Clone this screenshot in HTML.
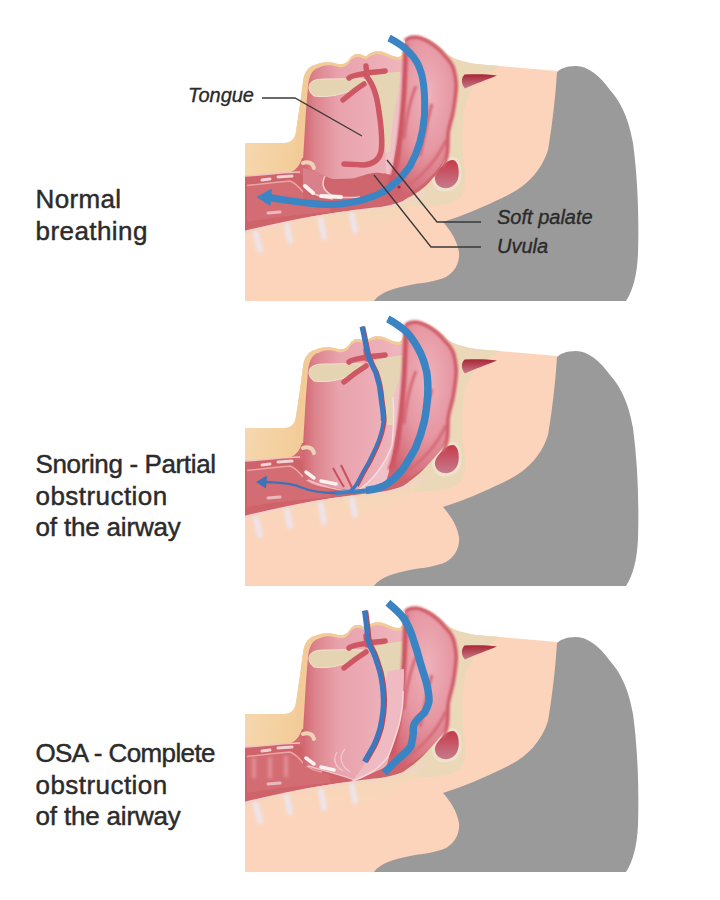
<!DOCTYPE html>
<html><head><meta charset="utf-8">
<style>
html,body{margin:0;padding:0;background:#fff;width:720px;height:900px;overflow:hidden}
.lbl{position:absolute;left:35.5px;font-family:"Liberation Sans",sans-serif;font-size:26px;line-height:31.5px;color:#2b2b2b;white-space:nowrap;-webkit-text-stroke:0.45px #2b2b2b}
.lbl span{display:block}
svg{position:absolute;left:0;top:0}
.it{font-family:"Liberation Sans",sans-serif;font-style:italic;font-size:20px;fill:#2a2a2a;stroke:#2a2a2a;stroke-width:0.35px}
</style></head><body>
<svg width="720" height="900" viewBox="0 0 720 900">
<defs>
<filter id="blur1" x="-50%" y="-50%" width="200%" height="200%"><feGaussianBlur stdDeviation="1.5"/></filter>
<linearGradient id="creamG" x1="0" y1="0" x2="0" y2="1"><stop offset="0" stop-color="#f2d8b6"/><stop offset="1" stop-color="#fcd4bc" stop-opacity="0"/></linearGradient>
<linearGradient id="uvG" x1="0" y1="0" x2="0" y2="1"><stop offset="0" stop-color="#f0bac2" stop-opacity="0"/><stop offset="0.3" stop-color="#f0bac2"/><stop offset="1" stop-color="#f0bac2"/></linearGradient>
<linearGradient id="pinkL" x1="0" y1="0" x2="1" y2="0">
  <stop offset="0" stop-color="#d2666f"/><stop offset="0.12" stop-color="#dc848d"/><stop offset="0.35" stop-color="#e8a2ac"/><stop offset="1" stop-color="#efb6be"/>
</linearGradient>
<radialGradient id="lumpR" cx="0.6" cy="0.35" r="0.7"><stop offset="0" stop-color="#eeb2bb"/><stop offset="0.5" stop-color="#e697a2"/><stop offset="1" stop-color="#d0626e"/></radialGradient>
<filter id="blur07" x="-20%" y="-20%" width="140%" height="140%"><feGaussianBlur stdDeviation="0.8"/></filter>
<linearGradient id="neckG" x1="0" y1="0" x2="1" y2="0.4">
  <stop offset="0" stop-color="#f7d9b4"/><stop offset="1" stop-color="#f3cd98"/>
</linearGradient>
<linearGradient id="sinG" x1="0" y1="0" x2="0" y2="1">
  <stop offset="0" stop-color="#c63a4a"/><stop offset="1" stop-color="#c77a8c"/>
</linearGradient>
<linearGradient id="wedgeG" x1="0" y1="0" x2="0" y2="1">
  <stop offset="0" stop-color="#a82536"/><stop offset="1" stop-color="#c77a8a"/>
</linearGradient>
<g id="base">
  <path d="M373,301 L626,301 C633,290 637,275 638,254 C639,220 638,180 633,143 C628,115 619,100 610,90 C600,76 588,66 576,66 C566,66 560,69 557,72 L373,301 Z" fill="#9a9a9a"/>
  <path d="M245,143 L284,143 C291,143 295,139 296,131 L300,105 L303,82 C304,72 309,66 315,65 C320,62 330,61 338,64 C342,65 346,64 349,60 C352,55 355,53.5 359,54 C362,54.5 364,56 366,56.5 C369,54 371,52 375,51.5 C379,51 383,51.5 388,54 C392,56 395,57 398,57 C401,57 402,55 403,52 C404,47 404,43 407,39 C411,36 420,35.5 430,40 C437,44 442,49 446,53 C450,57 455,59 462,61 C472,64 485,65 500,66 L557,71 C556,90 553,120 548,150 C540,175 522,189 502,198 C485,206 465,215 443,222 C450,230 457,240 459,252 C460,262 455,272 446,277 C435,282 420,283 410,285 C395,288 380,292 374,301 L245,301 Z" fill="#fcd4bc"/>
  <path d="M245,143 L284,143 C291,143 295,139 296,131 L300,105 L304,185 L245,185 Z" fill="url(#neckG)"/>
  <!-- beige tissue -->
  <path d="M296,135 L300,105 L303,82 C304,72 309,66 315,65 C320,62 330,61 338,64 C342,65 346,64 349,60 C352,55 355,53.5 359,54 C362,54.5 364,56 366,56.5 C369,54 371,52 375,51.5 C379,51 383,51.5 388,54 C392,56 395,57 398,57 C401,57 402,55 403,52 C404,47 404,43 407,39 C411,36 420,35.5 430,40 C437,44 442,49 446,53 C450,57 455,59 462,61 C472,64 485,65 500,66 C490,72 478,80 472,90 C466,100 463,110 463,122 C462,135 462,150 464,163 C466,178 466,192 460,198 C452,204 440,206 426,206 L300,215 Z" fill="#ebd8b8"/>
  <!-- mouth tan rim -->
  <path d="M296,135 L300,105 L303,82 C304,72 309,66 315,65 C320,62 330,61 338,64 C342,65 346,64 349,60 C352,55 355,53.5 359,54 C362,54.5 364,56 366,56.5 C369,54 371,52 375,51.5 C379,51 383,51.5 388,54 C392,56 395,57 398,57 C401,57 402,55 403,52 L405,60 L396,72 L370,72 L306,180 L296,180 Z" fill="#f3cb98"/>
  <!-- pharynx / trachea red band -->
  <path d="M245,176 C265,175 285,172 300,172 L330,168 L448,141 C446,152 438,166 430,177 C424,185 416,192 403,201 C390,206 380,207 370,208 C320,214 290,220 245,233 Z" fill="#ce6369"/>
  <path d="M291,172 C296,170 300,165 302,158 L309,158 L309,178 Z" fill="#d46a72"/>
  <path d="M247,186 C265,184 280,182 290,181 C296,184 300,188 304,193 C310,198 318,201 330,204 L330,212 C300,214 270,218 247,222 Z" fill="#d9777c" opacity="0.55"/>
  <path d="M245,176 C265,175 285,172 300,172" fill="none" stroke="#f2c2c2" stroke-width="1.5"/>
  <path d="M247,185.5 C260,184 280,182 290,181 C296,183 300,188 304,193 C310,198 316,200 322,201" stroke="#f0b5b5" stroke-width="1.5" fill="none" opacity="0.8"/>
  <path d="M262,180 L270,179 M278,177 L292,176" stroke="#f9e6e6" stroke-width="3" stroke-linecap="round" opacity="0.85"/>
  <path d="M268,213 L280,212" stroke="#f6dada" stroke-width="3" stroke-linecap="round" opacity="0.7"/>
  <path d="M245,232 C290,221 320,215 352,212 C380,210 405,206 426,192" fill="none" stroke="#f3d2cc" stroke-width="2.5"/>
  <path d="M245,233 C290,221 320,215 352,212 C380,210 400,207 418,199 C410,214 388,226 352,236 C320,242 290,250 245,258 Z" fill="url(#creamG)"/>
  <g stroke="#ece6f0" stroke-width="6" stroke-linecap="round" opacity="0.9" filter="url(#blur1)">
  <path d="M256,234 L260,250 M287,226 L290,241 M321,220 L324,237 M352,215 L355,230"/>
  </g>
  <!-- sinus oval -->
  <path d="M452.5,157 C459,157 462,166 461.5,176 C460.5,186 453,192 443.5,191.5 C434.5,191 430.5,182 432.5,175 C436,166 446,157 452.5,157 Z" fill="#efe2cc"/>
  <path d="M452.5,160 C457.5,160 459.5,168 458.5,176 C457.5,184 451.5,189 443.5,188 C436.5,187 433.5,180 435.5,175 C438.5,168 447.5,160 452.5,160 Z" fill="url(#sinG)"/>
  <path d="M464.5,74.5 C475,74 488,74 497,75.5 C488,79 475,84 465,88.5 C461,84 461,78 464.5,74.5 Z" fill="url(#wedgeG)"/>
</g>
</defs>
<use href="#base"/>
<g>
  <!-- tongue pink -->
  <path d="M303,180 L303,160 L306,110 L308,86 C309,75 313,69 318,68 C323,65 330,64 338,67 C342,68 346,67 349,63 C352,58 355,56.5 359,57 C362,57.5 364,59 366,59.5 C369,57 371,55 375,54.5 C379,54 383,54.5 388,57 C392,59 395,60 398,60 C400,60 402,59 403,58 L403,62 L403,160 C395,170 385,175 370,178 Z" fill="url(#pinkL)"/>
  <path d="M384,90 L403,70 L401,176 L386,178 Z" fill="#f1bfc6"/>
  <path d="M369,75 C380,73 392,72 400,72 L399,90 C394,110 391,130 390,152 L386,153 C383,125 378,95 369,75 Z" fill="#e6d5b4"/>
  <path d="M309,88 C309,81 315,79 325,79 C345,79 360,78 370,80 C364,86 352,91 340,94 C330,97 320,97 314,96 C311,94 309,91 309,88 Z" fill="#e4d4b1" stroke="#f5e3cf" stroke-width="1"/>
  <!-- pharynx floor red -->
  <path d="M303,168 C312,170 318,173 325,176 C335,181 345,182 355,178 C365,175 372,172 380,173 C390,174 395,176 400,178 C415,172 435,160 447,145 C446,160 440,172 432,179 C425,188 415,195 403,200 C390,206 380,206 370,207 C340,209 320,207 303,200 Z" fill="#cf666e"/>
  <path d="M303,168 C312,170 318,173 325,176 C321,184 323,191 333,196 C320,199 308,193 303,186 Z" fill="#d9808a"/>
  <path d="M325,176 C321,184 323,191 333,196 C340,198 348,198 360,197 M343,164 L358,167 M303,185 C310,193 320,198 333,199" fill="none" stroke="#f4c6cc" stroke-width="1.5"/>
  
  <path d="M405,41 C407,38 411,37 415,37 C420,37 424,39 429,42 C436,46 441,51 445,56 C450,61 453,66 454,70 C456,78 457,85 456,92 C455,100 454,110 452,117 C450,125 448,130 448,136 C448,145 448,150 447,155 C446,158 443,162 440,166 C433,175 425,183 416,189 C405,196 395,198 385,200 C390,185 393,170 395,154 C398,140 399,130 400,123 C401,110 402,100 403,92 C404,75 404,60 405,41 Z" fill="url(#lumpR)"/>
  <g filter="url(#blur07)">
  <path d="M405,41 C407,38 411,37 415,37 C420,37 424,39 429,42 C436,46 441,51 445,56 C450,61 453,66 454,70 C456,78 457,85 456,92 C455,100 454,110 452,117 C450,125 448,130 448,136 C448,145 448,150 447,155 C446,160 445,164 443,167" fill="none" stroke="#d05a68" stroke-width="3.5"/>
  <path d="M406,44 C405,60 405,75 404,92 C403,110 401,130 398,154 C396,165 394,175 390,185" fill="none" stroke="#cd5664" stroke-width="5"/>
  <path d="M416,86 C410,100 406,120 404,139 M432,104 C427,120 424,140 420,156 M446,140 C438,158 423,176 403,189" fill="none" stroke="#d46a76" stroke-width="3"/>
  </g>

  <path d="M349,78 C352,75 358,75 367,73 C372,72 378,72 385,71 M366,66 L367,75 M367,77 C373,84 377,95 379,112 C381,125 383,140 381,152 C379,160 373,164 364,165 L344,164 M364,84 C356,89 349,95 343,100" fill="none" stroke="#cd5863" stroke-width="5.5" stroke-linecap="round"/>
  <path d="M305,186 L313,193 M321,196 L341,197" stroke="#fdf2f2" stroke-width="4" stroke-linecap="round"/>
  <path d="M303,163 C308,161 313,163 314,168" stroke="#ecd3b5" stroke-width="4" fill="none" stroke-linecap="round"/>
  <circle cx="399" cy="187" r="1.6" fill="#a02c3a"/>
  <!-- blue arc -->
  <path d="M389,38 C405,46 417,58 421,72 C425,85 425,100 424.5,115 C423,135 418,152 410,166 C402,178 393,186 383,192 C370,199 355,203 335,204.5 C315,205 295,202 270,197.5" fill="none" stroke="#3b85c5" stroke-width="7"/>
  <path d="M256.5,197 L272,188.5 L270.5,206 Z" fill="#3b85c5"/>
</g>
<use href="#base" y="285"/>
<g transform="translate(0,285)">
  <path d="M303,195 L303,160 L306,110 L308,86 C309,75 313,69 318,68 C323,65 330,64 338,67 C342,68 346,67 349,63 C352,58 355,56.5 359,57 C362,57.5 364,59 366,59.5 C369,57 371,55 375,54.5 C379,54 383,54.5 388,57 C392,59 395,60 398,60 C400,60 402,59 403,58 L403,62 L402,180 C398,195 385,203 365,205 C340,206 320,201 308,195 Z" fill="url(#pinkL)"/>
  <path d="M372,76 C382,73 394,71 404,70 L403,100 C400,112 399,125 398,140 L387,140 C386,120 382,95 372,76 Z" fill="#e6d5b4"/>
  <path d="M309,88 C309,81 315,79 325,79 C345,79 360,78 368,80 C362,86 352,91 340,94 C330,97 320,97 314,96 C311,94 309,91 309,88 Z" fill="#e4d4b1" stroke="#f5e3cf" stroke-width="1"/>
  <path d="M393,112 L404,80 L402,150 C400,170 395,185 385,197 C378,203 370,206 356,207 C372,196 385,180 392,160 C394,140 394,125 393,112 Z" fill="#f1c1c8"/>
  <path d="M393,112 C394,125 394,140 392,160 C385,180 372,196 356,207" fill="none" stroke="#f8dde1" stroke-width="1.4"/>

  <path d="M405,41 C407,38 411,37 415,37 C420,37 424,39 429,42 C436,46 441,51 445,56 C450,61 453,66 454,70 C456,78 457,85 456,92 C455,100 454,110 452,117 C450,125 448,130 448,136 C448,145 448,150 447,155 C446,158 443,162 440,166 C433,175 425,183 416,189 C405,196 395,198 385,200 C390,185 393,170 395,154 C398,140 399,130 400,123 C401,110 402,100 403,92 C404,75 404,60 405,41 Z" fill="url(#lumpR)"/>
  <g filter="url(#blur07)">
  <path d="M405,41 C407,38 411,37 415,37 C420,37 424,39 429,42 C436,46 441,51 445,56 C450,61 453,66 454,70 C456,78 457,85 456,92 C455,100 454,110 452,117 C450,125 448,130 448,136 C448,145 448,150 447,155 C446,160 445,164 443,167" fill="none" stroke="#d05a68" stroke-width="3.5"/>
  <path d="M406,44 C405,60 405,75 404,92 C403,110 401,130 398,154 C396,165 394,175 390,185" fill="none" stroke="#cd5664" stroke-width="5"/>
  <path d="M416,86 C410,100 406,120 404,139 M432,104 C427,120 424,140 420,156 M446,140 C438,158 423,176 403,189" fill="none" stroke="#d46a76" stroke-width="3"/>
  </g>

  <path d="M308,195 C320,201 340,206 356,207" fill="none" stroke="#f3c3ca" stroke-width="1.5"/>
  <path d="M349,77 C352,74 358,74 367,72 C372,71 378,71 385,70 M366,65 L367,74 M366,81 C358,86 350,92 344,97" fill="none" stroke="#cd5863" stroke-width="5.5" stroke-linecap="round"/>
  <path d="M341,180 C345,188 349,196 353,205 M333,183 C337,190 340,196 344,202" stroke="#c9505c" stroke-width="2" fill="none"/>
  <path d="M306,187 L314,193 M321,196 L336,199" stroke="#fdf2f2" stroke-width="3.5" stroke-linecap="round"/>
  <path d="M303,163 C308,161 313,163 314,168" stroke="#ecd3b5" stroke-width="4" fill="none" stroke-linecap="round"/>
  <path d="M363,41.7 C366,55 367,62 368.8,69.4 C371,77 374,82 376.6,87.2 C380,97 381.5,105 382.1,113.9 C383,122 384.5,128 384.3,136.1 C383,148 380,155 376.6,162.8 C373,170 371,175 367.7,180.6 C363,188 360,195 356.6,200.6" fill="none" stroke="#b84a58" stroke-width="4.5"/>
  <path d="M362,41.7 C365,55 366,62 367.8,69.4 C370,77 373,82 375.6,87.2 C379,97 380.5,105 381.1,113.9 C382,122 383.5,128 383.3,136.1 C382,148 379,155 375.6,162.8 C372,170 370,175 366.7,180.6 C362,188 359,195 355.6,200.6 C353,204 351,206 348.9,207" fill="none" stroke="#3c78bd" stroke-width="3.4"/>
  <path d="M362,41.7 C365,55 366,62 367.8,69.4 C370,77 373,82 375.6,87.2 C379,97 380.5,105 381.1,113.9 C382,122 383.5,128 383.3,136.1" fill="none" stroke="#3c78bd" stroke-width="5"/>
  <path d="M266,197 C280,198 292,198 300,202 C310,206 320,208 335,208 C345,208 350,207 355,206" fill="none" stroke="#3c72b8" stroke-width="2.3"/>
  <path d="M387.8,33.9 C394,37 399,41 404.4,45 C410,50 414,56 417.8,62.8 C422,70 425,79 426.7,87.2 C428,95 428,102 427.8,109.4 C427,119 426,128 424.4,136 C422,146 419,155 415.6,162.8 C411,171 407,178 402.2,185 C396,192 391,197 384.4,200.6 C377,204 372,205 366,205.5" fill="none" stroke="#3b84c4" stroke-width="7.5"/>
  <path d="M370,205 C362,206 352,207 335,208" fill="none" stroke="#3b80c2" stroke-width="4"/>
  <path d="M256,197 L267,190.5 L266,203.5 Z" fill="#3c72b8"/>
</g>
<use href="#base" y="571"/>
<g transform="translate(0,571)">
  <path d="M303,195 L303,160 L306,110 L308,86 C309,75 313,69 318,68 C323,65 330,64 338,67 C342,68 346,67 349,63 C352,58 355,56.5 359,57 C362,57.5 364,59 366,59.5 C369,57 371,55 375,54.5 C379,54 383,54.5 388,57 C392,59 395,60 398,60 C400,60 402,59 403,58 L403,62 L402,180 C395,195 372,203 353,208.5 C345,205 325,200 308,195 Z" fill="url(#pinkL)"/>
  <path d="M372,76 C382,73 394,71 404,70 L403,100 C400,112 399,125 398,140 L387,140 C386,120 382,95 372,76 Z" fill="#e6d5b4"/>
  <path d="M309,88 C309,81 315,79 325,79 C345,79 360,78 368,80 C362,86 352,91 340,94 C330,97 320,97 314,96 C311,94 309,91 309,88 Z" fill="#e4d4b1" stroke="#f5e3cf" stroke-width="1"/>

  <path d="M405,41 C407,38 411,37 415,37 C420,37 424,39 429,42 C436,46 441,51 445,56 C450,61 453,66 454,70 C456,78 457,85 456,92 C455,100 454,110 452,117 C450,125 448,130 448,136 C448,145 448,150 447,155 C446,158 443,162 440,166 C433,175 425,183 416,189 C405,196 395,198 385,200 C390,185 393,170 395,154 C398,140 399,130 400,123 C401,110 402,100 403,92 C404,75 404,60 405,41 Z" fill="url(#lumpR)"/>
  <g filter="url(#blur07)">
  <path d="M405,41 C407,38 411,37 415,37 C420,37 424,39 429,42 C436,46 441,51 445,56 C450,61 453,66 454,70 C456,78 457,85 456,92 C455,100 454,110 452,117 C450,125 448,130 448,136 C448,145 448,150 447,155 C446,160 445,164 443,167" fill="none" stroke="#d05a68" stroke-width="3.5"/>
  <path d="M406,44 C405,60 405,75 404,92 C403,110 401,130 398,154 C396,165 394,175 390,185" fill="none" stroke="#cd5664" stroke-width="5"/>
  <path d="M416,86 C410,100 406,120 404,139 M432,104 C427,120 424,140 420,156 M446,140 C438,158 423,176 403,189" fill="none" stroke="#d46a76" stroke-width="3"/>
  </g>

  <path d="M388,100 L404,98 C404,115 403,125 402.5,134 C401,145 400,152 397.5,159 C394,170 391,180 387.5,186.5 C382,193 377,198 371,201.5 C365,205 358,208 352.5,210 C356,205 360,200 363.75,194 C369,187 373,182 375,175 C378,167 380,158 381,150 C382,140 383,130 383,120 Z" fill="#f0bac2"/>
  <path d="M403,120 C403,125 403,128 402.5,134 C401,145 400,152 397.5,159 C394,170 391,180 387.5,186.5 C382,193 377,198 371,201.5 C365,205 358,208 352.5,210" fill="none" stroke="#f8d6dc" stroke-width="1.5"/>
  <path d="M308,195 C325,200 345,205 353,208.5" fill="none" stroke="#f3c3ca" stroke-width="1.5"/>
  <path d="M349,77 C352,74 358,74 367,72 C372,71 378,71 385,70 M366,65 L367,74 M366,81 C358,86 350,92 344,97" fill="none" stroke="#cd5863" stroke-width="5.5" stroke-linecap="round"/>
  <path d="M345,178 C338,186 341,195 350,201 M337,181 C332,189 336,196 343,200" stroke="#f2c8cc" stroke-width="1.3" fill="none"/>
  <path d="M306,187 L314,193 M321,196 L334,199" stroke="#fdf2f2" stroke-width="3.5" stroke-linecap="round"/>
  <path d="M303,163 C308,161 313,163 314,168" stroke="#ecd3b5" stroke-width="4" fill="none" stroke-linecap="round"/>
  <path d="M365.4,39.6 C367,50 368,60 368.8,68.4 C370,74 372,78 374.3,81.8 C377,88 379,95 381,101.8 C383,110 384,120 384.3,128.4 C384.5,138 383,148 381,157.3 C379,164 377,170 374.3,175 C371,181 368,186 365.4,190.7" fill="none" stroke="#b84a58" stroke-width="5.5"/>
  <path d="M364.4,39.6 C366,50 367,60 367.8,68.4 C369,74 371,78 373.3,81.8 C376,88 378,95 380,101.8 C382,110 383,120 383.3,128.4 C383.5,138 382,148 380,157.3 C378,164 376,170 373.3,175 C370,181 367,186 364.4,190.7" fill="none" stroke="#3c78bd" stroke-width="5"/>
  <path d="M387.8,31.8 C394,37 400,42 404.4,48.4 C408,54 411,61 413.3,68.4 C416,76 418,83 420,90.7 C422,98 425,106 426.7,112.9 C428,119 429.5,125 428.9,130.7 C428,136 426,139 424.4,141.8 C421,145 418,147 415.6,150.7 C413,154 413,158 413.3,161.8 C413,167 412,171 411,175 C408,180 403,184 397.8,188.4 C393,193 389,197 384.4,201.8" fill="none" stroke="#3b84c4" stroke-width="7.5"/>
  <g filter="url(#blur1)"><path d="M254,187 L254,207 M270,186 L270,207 M286,185 L286,206" stroke="#eaa4aa" stroke-width="4" opacity="0.6"/></g>
</g>
<path d="M262,98 L295,98 L362,136 M387,160 L437,222 L481,222 M374,175 L431,247 L481,247" fill="none" stroke="#3a3a3a" stroke-width="1.3"/>
<text class="it" x="188" y="101.8">Tongue</text>
<text class="it" x="497" y="224">Soft palate</text>
<text class="it" x="497" y="252.5">Uvula</text>
</svg>
<div class="lbl" style="top:184px"><span style="letter-spacing:0.36px">Normal</span><span style="letter-spacing:0.44px">breathing</span></div>
<div class="lbl" style="top:449px"><span style="letter-spacing:-0.37px">Snoring - Partial</span><span style="letter-spacing:0.45px">obstruction</span><span style="letter-spacing:-0.17px">of the airway</span></div>
<div class="lbl" style="top:738px"><span style="letter-spacing:-0.6px">OSA - Complete</span><span style="letter-spacing:0.45px">obstruction</span><span style="letter-spacing:-0.17px">of the airway</span></div>
</body></html>
